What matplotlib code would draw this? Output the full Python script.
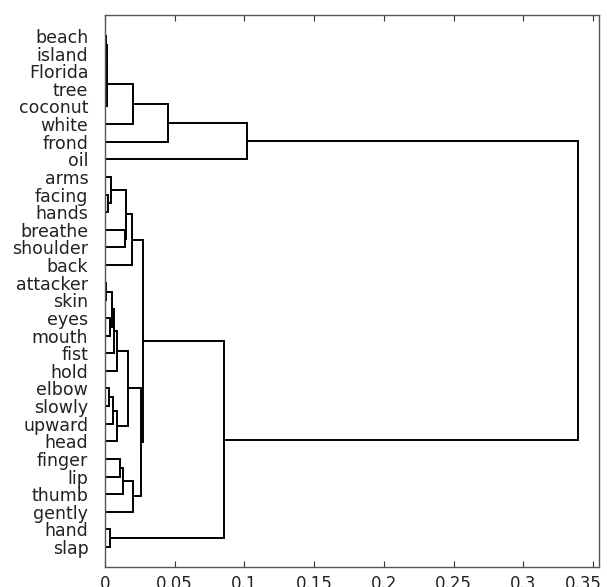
import matplotlib
matplotlib.use("Agg")
import matplotlib.pyplot as plt
import matplotlib.transforms as mtransforms

# leaf labels, top to bottom (dendrogram order)
labels = ["beach", "island", "Florida", "tree", "coconut", "white", "frond", "oil",
          "arms", "facing", "hands", "breathe", "shoulder", "back",
          "attacker", "skin", "eyes", "mouth", "fist", "hold",
          "elbow", "slowly", "upward", "head",
          "finger", "lip", "thumb", "gently", "hand", "slap"]

# linkage rows: (child a, child b, merge distance); ids >= 30 are earlier merges
link_a = [0, 2, 30, 32, 33, 34, 35,
          9, 8, 11, 38, 40,
          14, 16, 42, 44, 45,
          20, 47, 48, 46,
          24, 51, 52, 50, 41,
          28, 55, 36]
link_b = [1, 3, 31, 4, 5, 6, 7,
          10, 37, 12, 39, 13,
          15, 17, 43, 18, 19,
          21, 22, 23, 49,
          25, 26, 27, 53, 54,
          29, 56, 57]
link_h = [0.0006, 0.0008, 0.0011, 0.0014, 0.0201, 0.0453, 0.1022,
          0.0022, 0.0043, 0.0144, 0.0151, 0.0194,
          0.0008, 0.0036, 0.0050, 0.0065, 0.0086,
          0.0030, 0.0058, 0.0085, 0.0165,
          0.0108, 0.0130, 0.0201, 0.0259, 0.0273,
          0.0036, 0.0856, 0.3396]

xticks = [0, 0.05, 0.1, 0.15, 0.2, 0.25, 0.3, 0.35]

n = len(labels)
pos = {i: i + 1 for i in range(n)}
height = {i: 0.0 for i in range(n)}

fig = plt.figure(figsize=(6.07, 5.87), dpi=100)
ax = fig.add_axes([0.173, 0.034, 0.813, 0.9405])

for k, (a, b, h) in enumerate(zip(link_a, link_b, link_h)):
    pa, pb = pos[a], pos[b]
    ax.plot([height[a], h, h, height[b]], [pa, pa, pb, pb],
            color="black", lw=1.4, solid_joinstyle="miter")
    pos[n + k] = (pa + pb) / 2
    height[n + k] = h

ax.set_xlim(0, 0.354)
ax.set_ylim(31.13, -0.19)

ax.set_yticks(range(1, n + 1))
ax.set_yticklabels(labels, fontsize=12.5, color="#222222")
ax.tick_params(axis="y", length=0, pad=12)

ax.set_xticks(xticks)
ax.set_xticklabels(["%g" % t for t in xticks], fontsize=12, color="#222222")
ax.tick_params(axis="x", direction="in", top=True, length=4, pad=6,
               color="#333333")

# nudge the last tick label left so it stays inside the figure, as in the original
last = ax.get_xticklabels()[-1]
last.set_transform(last.get_transform() +
                   mtransforms.ScaledTranslation(-10 / 100, 0, fig.dpi_scale_trans))

for s in ax.spines.values():
    s.set_color("#555555")
    s.set_linewidth(1.0)

fig.savefig("out.png", dpi=100)
